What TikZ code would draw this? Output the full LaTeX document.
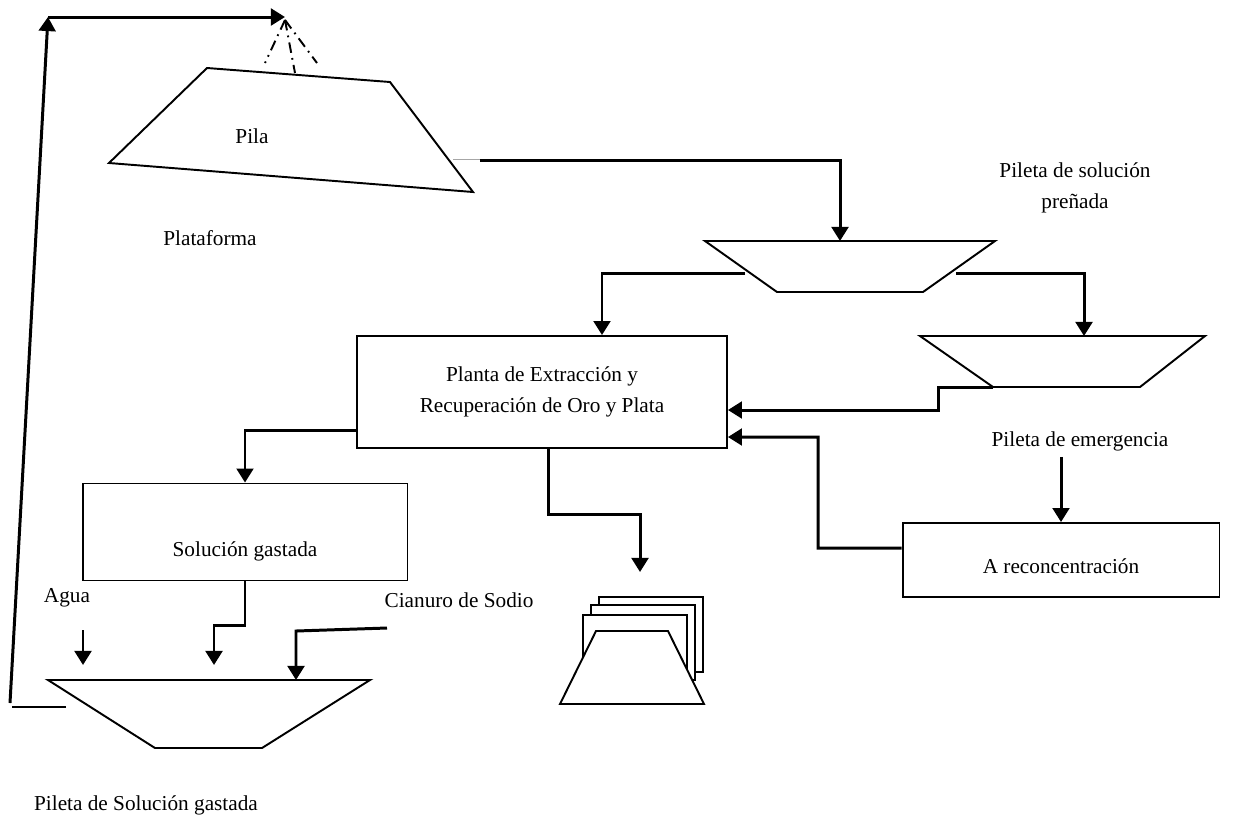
\documentclass[tikz,border=0pt]{standalone}
\usepackage{fontspec}
\setmainfont{Liberation Serif}
\usetikzlibrary{arrows.meta,positioning}

\begin{document}
\begin{tikzpicture}[x=0.02cm, y=-0.02cm, every node/.style={font=\fontsize{12.1}{18}\selectfont}, caja/.style={rectangle, draw, line width=1.1pt, align=center}, borde/.style={line width=1.1pt}, flujo/.style={line width=1.7pt, -{Triangle[length=8pt,width=9.5pt]}}]
        \useasboundingbox (0,0) rectangle (1236,826);

        % Cajas
        \node[caja, minimum width=7.4cm, minimum height=2.24cm] (planta) at (542,392) {Planta de Extracción y\\Recuperación de Oro y Plata};
        \node[caja, minimum width=6.5cm, minimum height=1.94cm, text height=1.06cm, text depth=0.1cm] (gastada) at (245,532) {Solución gastada};
        \node[caja, minimum width=6.34cm, minimum height=1.48cm, text height=0.62cm, text depth=0.1cm] (reconc) at (1061,560) {A reconcentración};

        % Pila y pileta
        \coordinate (pilaA) at (207,68);
        \coordinate (pilaB) at (390,82);
        \coordinate (pilaC) at (473,192);
        \coordinate (pilaD) at (109,163);
        \draw[borde] (pilaA) -- (pilaB) -- (pilaC) -- (pilaD) -- cycle;
        \coordinate (preA) at (705,241);
        \coordinate (preB) at (995,241);
        \coordinate (preC) at (923,292);
        \coordinate (preD) at (777,292);
        \draw[borde] (preA) -- (preB) -- (preC) -- (preD) -- cycle;
        \coordinate (emeA) at (920,336);
        \coordinate (emeB) at (1205,336);
        \coordinate (emeC) at (1140,387);
        \coordinate (emeD) at (993,387);
        \draw[borde] (emeA) -- (emeB) -- (emeC) -- (emeD) -- cycle;
        \coordinate (gasA) at (48,680);
        \coordinate (gasB) at (370,680);
        \coordinate (gasC) at (262,748);
        \coordinate (gasD) at (155,748);
        \draw[borde] (gasA) -- (gasB) -- (gasC) -- (gasD) -- cycle;

        % Lingotes
        \foreach \dx/\dy in {16/-18, 8/-10, 0/0}
            \draw[borde, fill=white] (583+\dx,615+\dy) rectangle (687+\dx,690+\dy);
        \draw[borde, fill=white] (596,631) -- (668,631) -- (704,704) -- (560,704) -- cycle;

        % Textos
        \node (pila) at (252,136) {Pila};
        \node (plataforma) at (210,238) {Plataforma};
        \node[align=center] (prenada) at (1075,188) {Pileta de solución\\preñada};
        \node (emergencia) at (1080,441) {Pileta de emergencia};
        \node (agua) at (67,598) {Agua};
        \node (cianuro) at (459,600) {Cianuro de Sodio};
        \node (pileta) at (146,805) {Pileta de Solución gastada};

        % Rociador
        \coordinate (rociador) at (285,17);
        \coordinate (foco) at (285,20);
        \foreach \px/\py in {265/63, 295/73, 317/63}
            \draw[borde, dash pattern=on 6pt off 3pt on 1pt off 3pt] (foco) -- (\px,\py);

        % Flujos
        \coordinate (retorno) at (12,707);
        \coordinate (salida) at (66,707);
        \coordinate (esquina) at (48,17);
        \draw[borde] (salida) -- (retorno);
        \draw[flujo] (10,703) -- (esquina);
        \draw[flujo] (esquina) -- (rociador);

        \coordinate (pilaSal) at (453,160);
        \coordinate (pilaSal2) at (480,160);
        \coordinate (preEnt) at (840,241);
        \draw[gray!70, line width=0.35pt, double distance=0.5pt] (pilaSal) -- (pilaSal2);
        \draw[flujo] (pilaSal2) -| (preEnt);

        \coordinate (preIzq) at (745,273);
        \coordinate (preDer) at (956,273);
        \coordinate (emeEnt) at (1084,336);
        \draw[flujo] (preIzq) -| ([xshift=1.2cm]planta.north);
        \draw[flujo] (preDer) -| (emeEnt);

        \coordinate (emeCodo) at (938,387);
        \draw[flujo] (emeD) -- (emeCodo) |- ([yshift=-0.36cm]planta.east);
        \draw[flujo] (emergencia.south -| reconc.north) -- (reconc.north);
        \draw[flujo] ([yshift=0.24cm]reconc.west) -| (818,437) -- ([yshift=-0.9cm]planta.east);

        \draw[flujo] ([yshift=-0.76cm]planta.west) -| (gastada.north);
        \coordinate (apiladoEnt) at (640,572);
        \draw[flujo] ([xshift=0.12cm]planta.south) -- ++(0,66) -| (apiladoEnt);

        \coordinate (gasEnt) at (214,665);
        \draw[flujo] (gastada.south) -- ++(0,44) -| (gasEnt);
        \coordinate (aguaIni) at (83,630);
        \coordinate (aguaFin) at (83,665);
        \draw[flujo] (aguaIni) -- (aguaFin);
        \coordinate (cianIni) at (387,628);
        \coordinate (cianCodo) at (296,631);
        \coordinate (cianFin) at (296,680);
        \draw[flujo] (cianIni) -- (cianCodo) -- (cianFin);
    \end{tikzpicture}
\end{document}
